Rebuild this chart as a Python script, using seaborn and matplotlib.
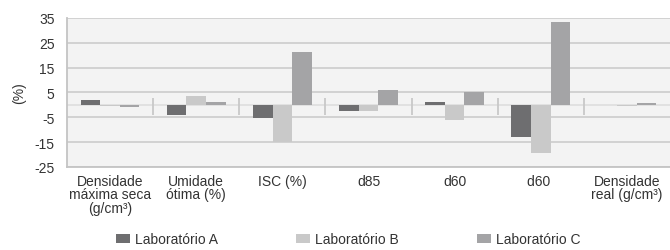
import matplotlib
matplotlib.use("Agg")
import matplotlib.pyplot as plt
import seaborn as sns
import pandas as pd
import numpy as np

categories = ["Densidade\nmáxima seca\n(g/cm³)", "Umidade\nótima (%)", "ISC (%)", "d85", "d60", "d60 ",
              "Densidade\nreal (g/cm³)"]
lab_a = [2.0, -4.0, -5.3, -2.5, 1.3, -13.0, 0.0]
lab_b = [-0.6, 3.7, -14.8, -2.4, -6.0, -19.5, -0.5]
lab_c = [-1.0, 1.0, 21.3, 6.0, 5.0, 33.3, 0.8]
series = ["Laboratório A", "Laboratório B", "Laboratório C"]
colors = ["#6e6e70", "#c9c9c9", "#a4a4a6"]
yticks = [-25, -15, -5, 5, 15, 25, 35]

rows = []
for s, vals in zip(series, [lab_a, lab_b, lab_c]):
    for c, v in zip(categories, vals):
        rows.append({"cat": c, "lab": s, "val": v})
df = pd.DataFrame(rows)

sns.set_theme(style="white")
fam = ["Liberation Sans Narrow", "Liberation Sans", "DejaVu Sans"]
plt.rcParams["font.family"] = fam

fig = plt.figure(figsize=(6.7, 2.51), dpi=100)
ax = fig.add_axes([67/670, 1-168/251, 603/670, (168-19)/251])
ax.set_facecolor("#f3f3f3")

sns.barplot(data=df, x="cat", y="val", hue="lab", order=categories, hue_order=series,
            palette=colors, width=0.68, saturation=1, ax=ax, legend=True, zorder=3,
            linewidth=0, edgecolor="none")

ax.set_ylim(-25, 35)
ax.set_xlim(-0.5, len(categories)-0.5)
ax.set_yticks(yticks)
ax.set_yticklabels([str(t) for t in yticks], fontsize=10, color="#333333")
ax.yaxis.grid(True, color="#d2d2d2", linewidth=1.4, zorder=0)
ax.axhline(0, color="#dedede", linewidth=1.2, zorder=1)
ax.set_axisbelow(True)
for i in range(len(categories)-1):
    ax.vlines(i+0.5, -3.9, 2.9, color="#c8c8c8", linewidth=1.3, zorder=2)

ax.set_xticks(range(len(categories)))
ax.set_xticklabels(categories, fontsize=10, color="#333333", linespacing=0.95)
ax.tick_params(axis="x", length=0, pad=5)
ax.tick_params(axis="y", length=6, color="#bbbbbb", width=1.2, pad=3)
ax.set_xlabel("")
ax.set_ylabel("(%)", fontsize=10, color="#333333", labelpad=6)
for side in ["top", "right"]:
    ax.spines[side].set_visible(False)
for side in ["left", "bottom"]:
    ax.spines[side].set_color("#c4c4c4")
    ax.spines[side].set_linewidth(1.3)

h, l = ax.get_legend_handles_labels()
ax.get_legend().remove()
fig.legend(h, l, loc="lower center", bbox_to_anchor=(0.52, -0.035), ncol=3, frameon=False,
           fontsize=10, handlelength=1.0, handleheight=0.6, handletextpad=0.4,
           columnspacing=5.6, labelcolor="#333333")

fig.savefig("out.png", dpi=100)
